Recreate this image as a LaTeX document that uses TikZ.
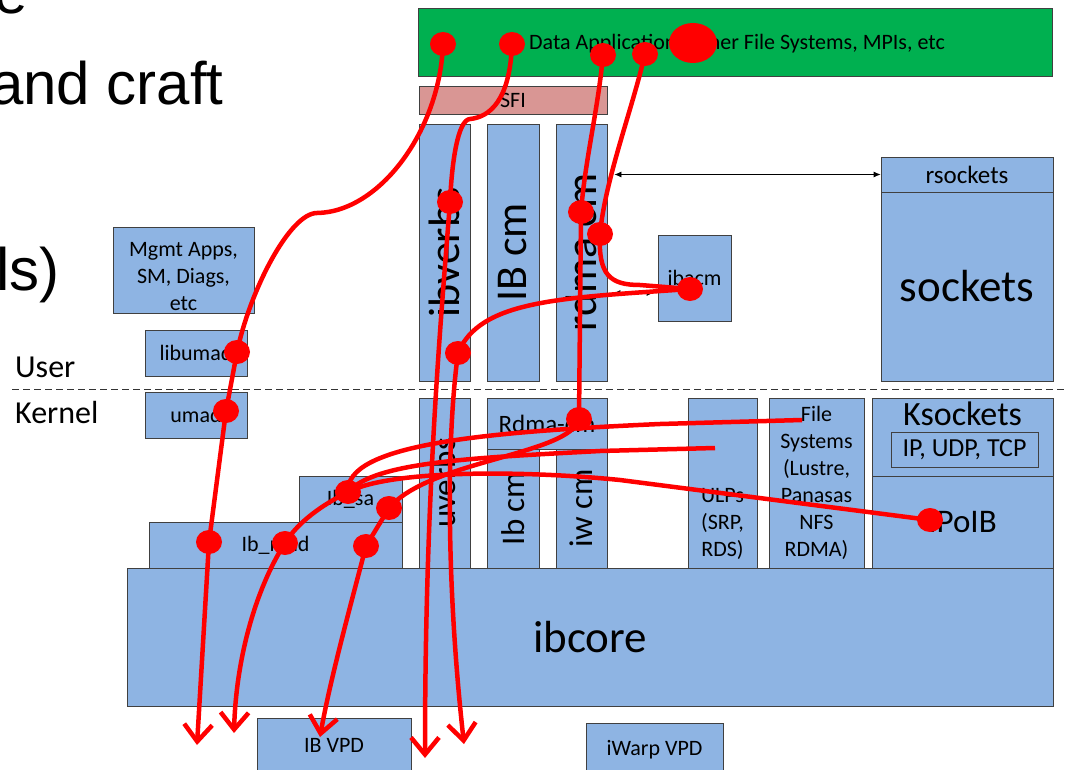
\documentclass[tikz,border=0pt]{standalone}
\usepackage{fontspec}
\setmainfont{Carlito}
\newfontfamily\slidefont{Liberation Sans}
\usetikzlibrary{arrows.meta,shapes.geometric}
\definecolor{layerblue}{HTML}{8EB4E3}
\definecolor{appgreen}{HTML}{00B050}
\definecolor{sfipink}{HTML}{D99694}
\newcommand{\fsz}[2]{\fontsize{#1}{#2}\selectfont}

\begin{document}
\begin{tikzpicture}[x=1pt, y=-1pt,
    layer/.style={draw=black!75, line width=0.8pt, fill=layerblue, inner sep=0pt, align=center, font=\fsz{22}{27}},
    txt/.style={inner sep=0pt, align=center},
    link/.style={black, line width=0.8pt, {Latex[length=7pt,width=6pt]}-{Latex[length=7pt,width=6pt]}},
    dot/.style={ellipse, fill=red, inner sep=0pt, minimum width=26pt, minimum height=24pt},
    wire/.style={draw=red, line width=4.5pt},
    wireout/.style={wire, -{Straight Barb[length=17pt,width=28pt]}}]
  \useasboundingbox (0,0) rectangle (1067,770);
  \clip (0,0) rectangle (1067,770);
  \fill[white] (0,0) rectangle (1067,770);

  \node[txt, anchor=base west, font=\slidefont\fsz{60}{70}] (wordE) at (-6,14) {e};
  \node[txt, anchor=base west, font=\slidefont\fsz{60}{70}] (craft) at (-10,105) {and craft};
  \node[txt, anchor=base east, font=\slidefont\fsz{60}{70}] (tools) at (60,290) {ls)};

  % user space
  \node[layer, fill=appgreen, minimum width=634pt, minimum height=68pt] (apps) at (735,42) {};
  \node[txt, anchor=base, font=\fsz{22}{27}] (appstxt) at (737,50) {Data Application, Other File Systems, MPIs, etc};
  \node[layer, fill=sfipink, minimum width=188pt, minimum height=28pt] (sfi) at (513,100) {SFI};
  \node[layer, rotate=90, minimum width=257pt, minimum height=51pt, font=\fsz{44}{50}] (ibverbs) at (444.5,252.5) {ibverbs};
  \node[layer, rotate=90, minimum width=257pt, minimum height=52pt, font=\fsz{44}{50}] (ibcm) at (513,252.5) {IB cm};
  \node[layer, rotate=90, minimum width=257pt, minimum height=51pt, font=\fsz{44}{50}] (rdmacm) at (581.5,252.5) {rdma cm};
  \node[layer, minimum width=73pt, minimum height=86pt] (ibacm) at (694.5,278) {ibacm};
  \node[layer, minimum width=172pt, minimum height=35pt, font=\fsz{25}{30}] (rsock) at (967,174.5) {rsockets};
  \node[layer, minimum width=172pt, minimum height=189pt, font=\fsz{45}{54}] (sock) at (967,286.5) {sockets};
  \node[layer, minimum width=141pt, minimum height=86pt] (mgmt) at (183.5,270) {};
  \node[txt, font=\fsz{22}{27}] (mgmttxt) at (183.5,277) {Mgmt Apps,\\SM, Diags,\\etc};
  \node[layer, minimum width=102pt, minimum height=46pt] (libumad) at (196,353) {libumad};

  \draw[black!80, line width=0.9pt, dash pattern=on 7pt off 4pt] (12,389) -- (1067,389);
  \node[txt, anchor=base west, font=\fsz{32}{38}] (user) at (15,377) {User};
  \node[txt, anchor=base west, font=\fsz{32}{38}] (kernel) at (15,423) {Kernel};

  % kernel
  \node[layer, minimum width=102pt, minimum height=46pt] (umad) at (196,415) {umad};
  \node[layer, rotate=90, minimum width=170pt, minimum height=51pt, font=\fsz{33}{40}] (uverbs) at (444.5,483) {uverbs};
  \node[layer, minimum width=120pt, minimum height=51pt, font=\fsz{25}{30}] (rdmacmk) at (547,423.5) {Rdma-cm};
  \node[layer, rotate=90, minimum width=119pt, minimum height=52pt, font=\fsz{33}{40}] (ibcmk) at (513,508.5) {Ib cm};
  \node[layer, rotate=90, minimum width=119pt, minimum height=51pt, font=\fsz{33}{40}] (iwcm) at (581.5,508.5) {iw cm};
  \node[layer, minimum width=69pt, minimum height=170pt] (ulps) at (722.5,483) {};
  \node[txt, anchor=south, font=\fsz{22}{27}] (ulpstxt) at (722.5,560) {ULPs\\(SRP,\\RDS)};
  \node[layer, minimum width=95pt, minimum height=170pt] (fsys) at (816.5,483) {File\\Systems\\(Lustre,\\Panasas\\NFS\\RDMA)};
  \node[layer, minimum width=181pt, minimum height=78pt] (ksock) at (962.5,437) {};
  \node[txt, anchor=base, font=\fsz{34}{40}] (ksocktxt) at (962.5,425) {Ksockets};
  \node[layer, fill=none, minimum width=147pt, minimum height=35pt, font=\fsz{26}{30}] (inet) at (964.5,449.5) {IP, UDP, TCP};
  \node[layer, minimum width=181pt, minimum height=92pt, font=\fsz{33}{40}] (ipoib) at (962.5,522) {IPoIB};
  \node[layer, minimum width=103pt, minimum height=46pt] (ibsa) at (350.5,499) {Ib\_sa};
  \node[layer, minimum width=253pt, minimum height=46pt] (ibmad) at (275.5,545) {Ib\_mad};
  \node[layer, minimum width=926pt, minimum height=138pt, font=\fsz{45}{54}] (ibcore) at (590,637) {ibcore};
  \node[layer, minimum width=154pt, minimum height=72pt] (ibvpd) at (334,754) {};
  \node[txt, anchor=base, font=\fsz{22}{27}] (ibvpdtxt) at (334,752) {IB VPD};
  \node[layer, minimum width=137pt, minimum height=67pt] (iwvpd) at (654.5,756.5) {};
  \node[txt, anchor=base, font=\fsz{22}{27}] (iwvpdtxt) at (654.5,755) {iWarp VPD};

  \draw[link, shorten <=7pt] (rdmacm.south |- rsock.west) -- (rsock.west);
  \coordinate (acmIn) at ([yshift=-15pt]ibacm.west);
  \draw[link, shorten <=6pt, shorten >=4pt] (rdmacm.south |- acmIn) -- (acmIn);

  % red call paths
  \node[dot] (app1) at (443,44) {};
  \node[dot] (app2) at (512,44) {};
  \node[dot] (app3) at (603,55) {};
  \node[dot] (app4) at (645,54) {};
  \node[dot, minimum width=48pt, minimum height=40pt] (app5) at (693,43) {};
  \node[dot] (verbs) at (450,202) {};
  \node[dot] (cmA) at (581,212) {};
  \node[dot] (cmB) at (600,234) {};
  \node[dot] (acm) at (690,289) {};
  \node[dot] (verbsB) at (458,353) {};
  \node[dot] (libmad) at (237,352) {};
  \node[dot] (kmad) at (226,411) {};
  \node[dot] (kcm) at (579,419) {};
  \node[dot] (saA) at (348,492) {};
  \node[dot] (saB) at (389,508) {};
  \node[dot] (madA) at (209,542) {};
  \node[dot] (madB) at (285,543) {};
  \node[dot] (madC) at (366,546) {};
  \node[dot] (ipo) at (930,520) {};
  \coordinate (fsEnd) at (802,420);
  \coordinate (ulpEnd) at (715,448);
  \coordinate (out1) at (197,745);
  \coordinate (out2) at (234,733);
  \coordinate (out3) at (320,737);
  \coordinate (out4) at (425,758);
  \coordinate (out5) at (464,744);

  \draw[wireout] (app1.center) .. controls (440,130) and (380,212) .. (317,213)
    .. controls (290,213) and (250,290) .. (libmad.center) -- (kmad.center) -- (madA.center) -- (out1);
  \draw[wireout] (app2.center) .. controls (510,100) and (490,117) .. (470,119)
    .. controls (458,120) and (452,160) .. (verbs.center)
    .. controls (440,330) and (425,500) .. (out4);
  \draw[wireout] (app3.center) .. controls (598,110) and (585,160) .. (cmA.center) -- (kcm.center)
    .. controls (570,455) and (430,460) .. (saB.center) -- (madC.center)
    .. controls (352,600) and (330,680) .. (out3);
  \draw[wire] (app4.center) .. controls (632,110) and (605,180) .. (cmB.center)
    .. controls (598,275) and (610,285) .. (640,285) -- (acm.center);
  \draw[wireout] (acm.center) .. controls (560,298) and (480,300) .. (verbsB.center)
    .. controls (445,450) and (448,600) .. (out5);
  \draw[wire] (fsEnd) -- (660,424) .. controls (480,432) and (345,445) .. (saA.center);
  \draw[wire] (ulpEnd) -- (600,451) .. controls (470,458) and (375,462) .. (saA.center);
  \draw[wire] (ipo.center) -- (620,480) .. controls (520,470) and (390,470) .. (saA.center);
  \draw[wireout] (saA.center) .. controls (322,505) and (298,522) .. (madB.center)
    .. controls (255,590) and (236,660) .. (out2);
\end{tikzpicture}
\end{document}
